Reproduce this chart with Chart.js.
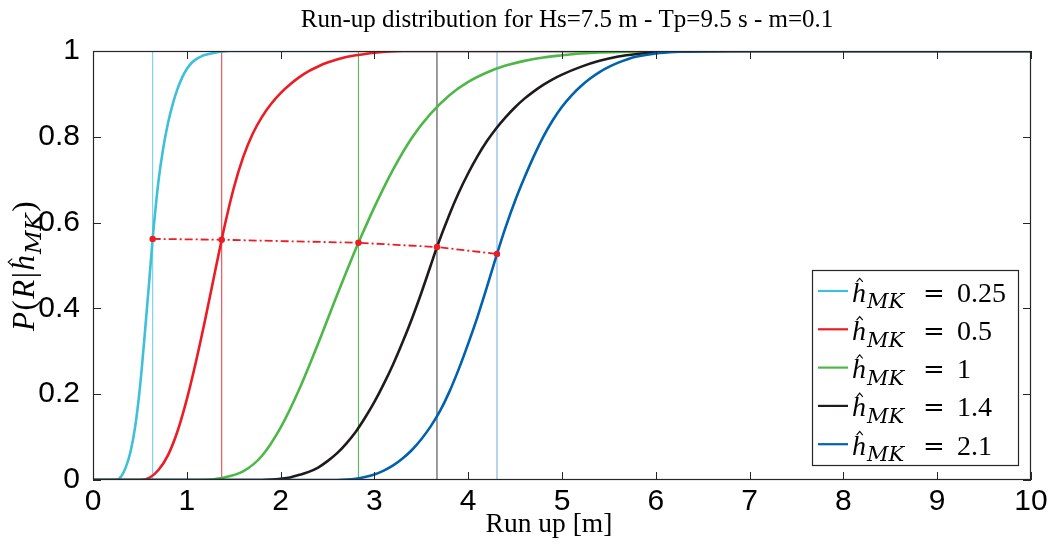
<!DOCTYPE html>
<html>
<head>
<meta charset="utf-8">
<script src="https://cdn.jsdelivr.net/npm/chart.js@4.4.1/dist/chart.umd.min.js"></script>
<style>
  html, body { margin: 0; padding: 0; background: #ffffff; }
  #wrap { width: 1052px; height: 551px; }
</style>
</head>
<body>
<div id="wrap"><canvas id="chart" width="1052" height="551"></canvas></div>
<script>
// Run-up exceedance curves P(R | h_MK) for Hs=7.5 m, Tp=9.5 s, slope m=0.1

const xTickLabels = ['0', '1', '2', '3', '4', '5', '6', '7', '8', '9', '10'];
const yTickLabels = ['0', '0.2', '0.4', '0.6', '0.8', '1'];

const hmkLabels = ['0.25', '0.5', '1', '1.4', '2.1'];

// h_MK = 0.25
const runUp025 = [0, 0.25, 0.30, 0.35, 0.40, 0.45, 0.50, 0.55, 0.60, 0.636, 0.65, 0.70, 0.75, 0.80, 0.85, 0.90, 0.95, 1.00, 1.05, 1.10, 1.15, 1.20, 1.30, 1.45, 10];
const prob025  = [0, 0, 0.008, 0.03, 0.066, 0.125, 0.215, 0.335, 0.465, 0.562, 0.596, 0.70, 0.775, 0.832, 0.876, 0.911, 0.938, 0.958, 0.972, 0.981, 0.987, 0.991, 0.996, 1, 1];

// h_MK = 0.5
const runUp05 = [0, 0.5, 0.6, 0.7, 0.8, 0.9, 1.0, 1.1, 1.2, 1.3, 1.372, 1.4, 1.5, 1.6, 1.7, 1.8, 1.9, 2.0, 2.1, 2.2, 2.3, 2.4, 2.5, 2.6, 2.7, 2.8, 2.9, 3.0, 3.3, 10];
const prob05  = [0, 0, 0.005, 0.024, 0.058, 0.113, 0.188, 0.278, 0.378, 0.485, 0.56, 0.589, 0.68, 0.752, 0.806, 0.846, 0.877, 0.902, 0.922, 0.939, 0.953, 0.964, 0.973, 0.98, 0.986, 0.99, 0.993, 0.996, 1, 1];

// h_MK = 1
const runUp1 = [0, 1.15, 1.4, 1.6, 1.8, 2.0, 2.2, 2.4, 2.6, 2.8, 2.83, 3.0, 3.2, 3.4, 3.6, 3.8, 4.0, 4.2, 4.4, 4.6, 4.8, 5.0, 5.2, 5.4, 5.7, 6.2, 10];
const prob1  = [0, 0, 0.006, 0.02, 0.056, 0.122, 0.212, 0.318, 0.43, 0.538, 0.553, 0.636, 0.724, 0.798, 0.854, 0.897, 0.928, 0.95, 0.966, 0.977, 0.985, 0.99, 0.994, 0.9965, 0.9985, 1, 1];

// h_MK = 1.4
const runUp14 = [0, 1.8, 1.9, 2.0, 2.1, 2.2, 2.3, 2.4, 2.5, 2.6, 2.7, 2.8, 2.9, 3.0, 3.1, 3.2, 3.3, 3.4, 3.5, 3.6, 3.667, 3.8, 3.9, 4.0, 4.1, 4.2, 4.3, 4.4, 4.5, 4.6, 4.7, 4.8, 4.9, 5.0, 5.2, 5.4, 5.6, 5.8, 6.0, 6.3, 6.8, 10];
const prob14  = [0, 0, 0.001, 0.003, 0.006, 0.012, 0.019, 0.029, 0.044, 0.062, 0.085, 0.112, 0.145, 0.182, 0.224, 0.27, 0.321, 0.376, 0.436, 0.5, 0.543, 0.619, 0.67, 0.715, 0.755, 0.79, 0.82, 0.846, 0.869, 0.889, 0.906, 0.921, 0.934, 0.945, 0.963, 0.977, 0.987, 0.993, 0.997, 0.999, 1, 1];

// h_MK = 2.1
const runUp21 = [0, 2.6, 2.7, 2.8, 2.9, 3.0, 3.1, 3.2, 3.3, 3.4, 3.5, 3.6, 3.7, 3.8, 3.9, 4.0, 4.1, 4.2, 4.307, 4.4, 4.5, 4.6, 4.7, 4.8, 4.9, 5.0, 5.1, 5.2, 5.3, 5.4, 5.5, 5.6, 5.7, 5.8, 6.0, 6.2, 6.5, 7.0, 10];
const prob21  = [0, 0, 0.001, 0.003, 0.007, 0.013, 0.022, 0.034, 0.05, 0.07, 0.095, 0.125, 0.161, 0.206, 0.259, 0.318, 0.381, 0.45, 0.527, 0.59, 0.651, 0.705, 0.755, 0.8, 0.838, 0.87, 0.896, 0.918, 0.936, 0.951, 0.963, 0.973, 0.981, 0.987, 0.994, 0.9975, 0.9995, 1, 1];

// characteristic run-up of each curve and its probability
const markerRunUp = [0.636, 1.372, 2.83, 3.667, 4.307];
const markerProb  = [0.562, 0.560, 0.553, 0.543, 0.527];

const curveRunUp = [runUp025, runUp05, runUp1, runUp14, runUp21];
const curveProb  = [prob025, prob05, prob1, prob14, prob21];

const curveColors  = ['#3ec0d8', '#ec1c24', '#4db848', '#1f1a1b', '#0062ae'];
const markerColors = ['#6fd1e4', '#e8474d', '#55bf52', '#4a4a4a', '#7eb0dc'];
const linkColor = '#ec1c24';

const SERIF = "'Liberation Serif', 'DejaVu Serif', serif";
const WIDE_SERIF = "'DejaVu Serif', 'Liberation Serif', serif";
const SANS = "'Liberation Sans', Arial, sans-serif";

const datasets = [];
curveRunUp.forEach((xs, i) => {
  datasets.push({
    label: 'h_MK = ' + hmkLabels[i],
    data: xs.map((x, j) => ({ x: x, y: curveProb[i][j] })),
    borderColor: curveColors[i],
    borderWidth: 2.6,
    pointRadius: 0,
    showLine: true,
    fill: false,
    cubicInterpolationMode: 'monotone',
    order: 6 - i
  });
});
markerRunUp.forEach((m, i) => {
  datasets.push({
    label: 'marker ' + hmkLabels[i],
    data: [{ x: m, y: 0 }, { x: m, y: 1 }],
    borderColor: markerColors[i],
    borderWidth: 1.1,
    pointRadius: 0,
    showLine: true,
    fill: false,
    order: 20 + i
  });
});
datasets.push({
  label: 'link',
  data: markerRunUp.map((m, i) => ({ x: m, y: markerProb[i] })),
  borderColor: linkColor,
  borderWidth: 1.8,
  borderDash: [8, 3, 2, 3],
  pointRadius: 3.2,
  pointBackgroundColor: linkColor,
  pointBorderWidth: 0,
  showLine: true,
  fill: false,
  tension: 0,
  order: 0
});

// italic h with a hat and the MK subscript
function hmkWidth(ctx, size) {
  ctx.font = 'italic ' + size + 'px ' + SERIF;
  const hw = ctx.measureText('h').width;
  ctx.font = 'italic ' + Math.round(size * 0.75) + 'px ' + WIDE_SERIF;
  return hw + 1 + ctx.measureText('MK').width;
}

function drawHmk(ctx, x, base, size) {
  ctx.font = 'italic ' + size + 'px ' + SERIF;
  ctx.fillText('h', x, base);
  const hw = ctx.measureText('h').width;
  const cx = x + hw * 0.55;
  ctx.save();
  ctx.lineWidth = 1.1;
  ctx.beginPath();
  ctx.moveTo(cx - size * 0.11, base - size * 0.7);
  ctx.lineTo(cx, base - size * 0.83);
  ctx.lineTo(cx + size * 0.11, base - size * 0.7);
  ctx.stroke();
  ctx.restore();
  ctx.font = 'italic ' + Math.round(size * 0.75) + 'px ' + WIDE_SERIF;
  ctx.fillText('MK', x + hw + 1, base + size * 0.24);
  return hw + 1 + ctx.measureText('MK').width;
}

const backgroundPlugin = {
  id: 'whiteBackground',
  beforeDraw(chart) {
    const ctx = chart.ctx;
    ctx.save();
    ctx.fillStyle = '#ffffff';
    ctx.fillRect(0, 0, chart.width, chart.height);
    ctx.restore();
  }
};

const framePlugin = {
  id: 'axesFrame',
  afterDatasetsDraw(chart) {
    const ctx = chart.ctx;
    const { left, right, top, bottom } = chart.chartArea;
    const xs = chart.scales.x, ys = chart.scales.y;
    const tickLen = 8;
    ctx.save();
    ctx.strokeStyle = '#262626';
    ctx.lineWidth = 1;
    ctx.beginPath();
    xs.ticks.forEach(t => {
      const p = Math.round(xs.getPixelForValue(t.value)) + 0.5;
      ctx.moveTo(p, bottom); ctx.lineTo(p, bottom - tickLen);
      ctx.moveTo(p, top); ctx.lineTo(p, top + tickLen);
    });
    ys.ticks.forEach(t => {
      const p = Math.round(ys.getPixelForValue(t.value)) + 0.5;
      ctx.moveTo(left, p); ctx.lineTo(left + tickLen, p);
      ctx.moveTo(right, p); ctx.lineTo(right - tickLen, p);
    });
    ctx.stroke();
    ctx.lineWidth = 1.2;
    ctx.strokeRect(left + 0.5, top + 0.5, right - left - 1, bottom - top - 1);
    ctx.restore();
  },
  afterDraw(chart) {
    const ctx = chart.ctx;
    const { left, right, top, bottom } = chart.chartArea;
    ctx.save();
    ctx.fillStyle = '#000000';
    ctx.strokeStyle = '#000000';

    // title
    ctx.textAlign = 'center';
    ctx.textBaseline = 'alphabetic';
    ctx.font = '25px ' + SERIF;
    ctx.fillText('Run-up distribution for Hs=7.5 m - Tp=9.5 s - m=0.1', (left + right) / 2 + 5, 27);

    // x axis title
    ctx.font = '27.5px ' + SERIF;
    ctx.fillText('Run up [m]', (left + right) / 2 - 13, 532);

    // y axis title, rotated
    const size = 31;
    ctx.textAlign = 'left';
    const parts = [
      { t: 'P', f: 'italic ' + size + 'px ' + SERIF },
      { t: '(', f: size + 'px ' + SERIF },
      { t: 'R', f: 'italic ' + size + 'px ' + SERIF },
      { t: '|', f: size + 'px ' + SERIF },
      { t: 'HMK' },
      { t: ')', f: size + 'px ' + SERIF }
    ];
    const gap = 1.5;
    let total = 0;
    parts.forEach(p => {
      if (p.t === 'HMK') { p.w = hmkWidth(ctx, size); }
      else { ctx.font = p.f; p.w = ctx.measureText(p.t).width; }
      total += p.w + gap;
    });
    ctx.translate(34, (top + bottom) / 2);
    ctx.rotate(-Math.PI / 2);
    let px = -total / 2;
    parts.forEach(p => {
      if (p.t === 'HMK') { drawHmk(ctx, px, 0, size); }
      else { ctx.font = p.f; ctx.fillText(p.t, px, 0); }
      px += p.w + gap;
    });
    ctx.setTransform(1, 0, 0, 1, 0, 0);

    // legend
    const boxR = right - 13, boxB = bottom - 15;
    const boxW = 206, boxH = 195;
    const boxL = boxR - boxW, boxT = boxB - boxH;
    ctx.fillStyle = '#ffffff';
    ctx.fillRect(boxL, boxT, boxW, boxH);
    ctx.lineWidth = 1.2;
    ctx.strokeStyle = '#262626';
    ctx.strokeRect(boxL + 0.5, boxT + 0.5, boxW, boxH);
    const rowH = 38.3;
    hmkLabels.forEach((lab, i) => {
      const cy = boxT + 21 + i * rowH;
      ctx.strokeStyle = curveColors[i];
      ctx.lineWidth = 2.2;
      ctx.beginPath();
      ctx.moveTo(boxL + 6, cy);
      ctx.lineTo(boxL + 36, cy);
      ctx.stroke();
      ctx.fillStyle = '#000000';
      ctx.strokeStyle = '#000000';
      const base = cy + 10.5;
      drawHmk(ctx, boxL + 40, base, 28);
      ctx.font = '26px ' + WIDE_SERIF;
      ctx.fillText('=', boxL + 111, base);
      ctx.font = '28px ' + SERIF;
      ctx.fillText(lab, boxL + 145, base);
    });
    ctx.restore();
  }
};

new Chart(document.getElementById('chart'), {
  type: 'scatter',
  data: { datasets: datasets },
  options: {
    responsive: false,
    animation: false,
    devicePixelRatio: 1,
    layout: { padding: { left: 0, top: 51, right: 21, bottom: 0 } },
    plugins: {
      legend: { display: false },
      tooltip: { enabled: false },
      title: { display: false }
    },
    scales: {
      x: {
        type: 'linear',
        min: 0,
        max: 10,
        grid: { display: false, drawTicks: false },
        border: { display: false },
        ticks: {
          stepSize: 1,
          padding: 4,
          color: '#000000',
          font: { family: SANS, size: 30 },
          maxRotation: 0,
          autoSkip: false,
          callback: v => xTickLabels[Math.round(v)]
        },
        afterFit: s => { s.height = 71; }
      },
      y: {
        type: 'linear',
        min: 0,
        max: 1,
        grid: { display: false, drawTicks: false },
        border: { display: false },
        ticks: {
          stepSize: 0.2,
          padding: 13,
          color: '#000000',
          font: { family: SANS, size: 30 },
          autoSkip: false,
          callback: v => yTickLabels[Math.round(v * 5)]
        },
        afterFit: s => { s.width = 93; }
      }
    }
  },
  plugins: [backgroundPlugin, framePlugin]
});
</script>
</body>
</html>
